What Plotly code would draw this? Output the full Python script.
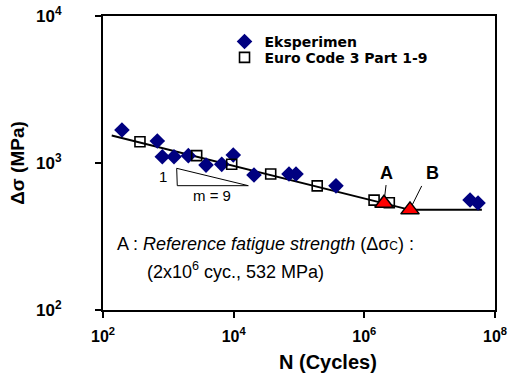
import numpy as np
import plotly.graph_objects as go

# Experimental data (cycles, stress range MPa)
exp_N = [195, 678, 809, 1222, 2024, 3776, 6563, 9860, 20470, 70300, 90000, 368000, 41.5e6, 55e6]
exp_S = [1677, 1413, 1104, 1104, 1122, 968, 979, 1133, 828, 841, 841, 699, 560, 535]

# Euro Code 3 Part 1-9 points
ec_N = [368, 2717, 9330, 36900, 190000, 1.41e6, 2.41e6]
ec_S = [1396, 1122, 980, 841, 699, 559, 537]

# S-N design line
line_N = [136, 5.0e6, 6.3e7]
line_S = [1540, 480, 480]

# Points A and B
tri_N = [2.0e6, 5.0e6]
tri_S = [532, 480]
tri_labels = ["A", "B"]
label_N = [2.2e6, 1.11e7]
label_S = [859, 859]
leadA_N = [2.15e6, 2.02e6]
leadA_S = [708, 560]
leadB_N = [7.55e6, 5.19e6]
leadB_S = [698, 500]

# slope triangle
slope_N = [1343, 1370, 16750, 1343]
slope_S = [920, 701, 701, 920]
slope_txt_N = [837, 4610]
slope_txt_S = [807, 600]
slope_txt = ["1", "m = 9"]

x_ticks = [1e2, 1e4, 1e6, 1e8]
x_ticktext = ["10<sup>2</sup>", "10<sup>4</sup>", "10<sup>6</sup>", "10<sup>8</sup>"]
y_ticks = [1e2, 1e3, 1e4]
y_ticktext = ["10<sup>2</sup>", "10<sup>3</sup>", "10<sup>4</sup>"]

AX_FONT = "Liberation Sans, Arial, sans-serif"
LEG_FONT = dict(family="DejaVu Sans, sans-serif", size=14, color="black", weight="bold")

fig = go.Figure()

fig.add_trace(go.Scatter(x=line_N, y=line_S, mode="lines",
                         line=dict(color="black", width=2), showlegend=False, hoverinfo="skip"))
fig.add_trace(go.Scatter(x=slope_N, y=slope_S, mode="lines",
                         line=dict(color="black", width=1), showlegend=False, hoverinfo="skip"))
fig.add_trace(go.Scatter(x=leadA_N, y=leadA_S, mode="lines",
                         line=dict(color="black", width=1), showlegend=False, hoverinfo="skip"))
fig.add_trace(go.Scatter(x=leadB_N, y=leadB_S, mode="lines",
                         line=dict(color="black", width=1), showlegend=False, hoverinfo="skip"))

fig.add_trace(go.Scatter(x=exp_N, y=exp_S, mode="markers", name="Eksperimen", legend="legend",
                         marker=dict(symbol="diamond", size=12, color="#000080",
                                     line=dict(width=0))))
fig.add_trace(go.Scatter(x=ec_N, y=ec_S, mode="markers", name="Euro Code 3 Part 1-9", legend="legend2",
                         marker=dict(symbol="square-open", size=10, color="black",
                                     line=dict(width=1.6, color="black"))))
fig.add_trace(go.Scatter(x=tri_N, y=tri_S, mode="markers", showlegend=False,
                         marker=dict(symbol="triangle-up", size=16, color="#FF0000",
                                     line=dict(width=1.5, color="black"))))

for n, s, t in zip(label_N, label_S, tri_labels):
    fig.add_annotation(x=np.log10(n), y=np.log10(s), text=t, showarrow=False,
                       font=dict(family=AX_FONT, size=18, color="black", weight="bold"))
for n, s, t in zip(slope_txt_N, slope_txt_S, slope_txt):
    fig.add_annotation(x=np.log10(n), y=np.log10(s), text=t, showarrow=False,
                       font=dict(family=AX_FONT, size=15, color="black"))

fig.add_annotation(xref="paper", yref="paper", x=0.031, y=0.2245, xanchor="left", yanchor="middle",
                   text="A : <i>Reference fatigue strength</i> (Δσ<span style='font-size:12px'>C</span>) :",
                   showarrow=False, font=dict(family=AX_FONT, size=18, color="black"))
fig.add_annotation(xref="paper", yref="paper", x=0.107, y=0.133, xanchor="left", yanchor="middle",
                   text="(2x10<sup>6</sup> cyc., 532 MPa)",
                   showarrow=False, font=dict(family=AX_FONT, size=18, color="black"))

# x-axis title placed as in the reference (right of centre)
fig.add_annotation(xref="paper", yref="paper", x=0.574, y=-0.177, xanchor="center", yanchor="middle",
                   text="N (Cycles)", showarrow=False,
                   font=dict(family=AX_FONT, size=20, color="black", weight="bold"))

fig.update_layout(
    width=510, height=376,
    margin=dict(l=103, r=15, t=16, b=66),
    paper_bgcolor="white", plot_bgcolor="white",
    legend=dict(x=0.31, y=0.912, xanchor="left", yanchor="middle",
                bgcolor="rgba(0,0,0,0)", itemwidth=30, font=LEG_FONT),
    legend2=dict(x=0.31, y=0.858, xanchor="left", yanchor="middle",
                 bgcolor="rgba(0,0,0,0)", itemwidth=30, font=LEG_FONT),
    xaxis=dict(type="log", range=[2, 8], tickvals=x_ticks, ticktext=x_ticktext,
               automargin=False,
               showgrid=False, zeroline=False, showline=True, linecolor="black", linewidth=2,
               mirror=True, ticks="outside", ticklen=6, tickwidth=1.5, tickcolor="black",
               ticklabelstandoff=5,
               tickfont=dict(family=AX_FONT, size=16, color="black", weight="bold")),
    yaxis=dict(type="log", range=[2, 4], tickvals=y_ticks, ticktext=y_ticktext,
               automargin=False,
               showgrid=False, zeroline=False, showline=True, linecolor="black", linewidth=2,
               mirror=True, ticks="outside", ticklen=6, tickwidth=1.5, tickcolor="black",
               ticklabelstandoff=30,
               tickfont=dict(family=AX_FONT, size=17, color="black", weight="bold"),
               title=dict(text="Δσ (MPa)", standoff=6,
                          font=dict(family=AX_FONT, size=19, color="black", weight="bold"))),
)

fig.write_html("out.html")
